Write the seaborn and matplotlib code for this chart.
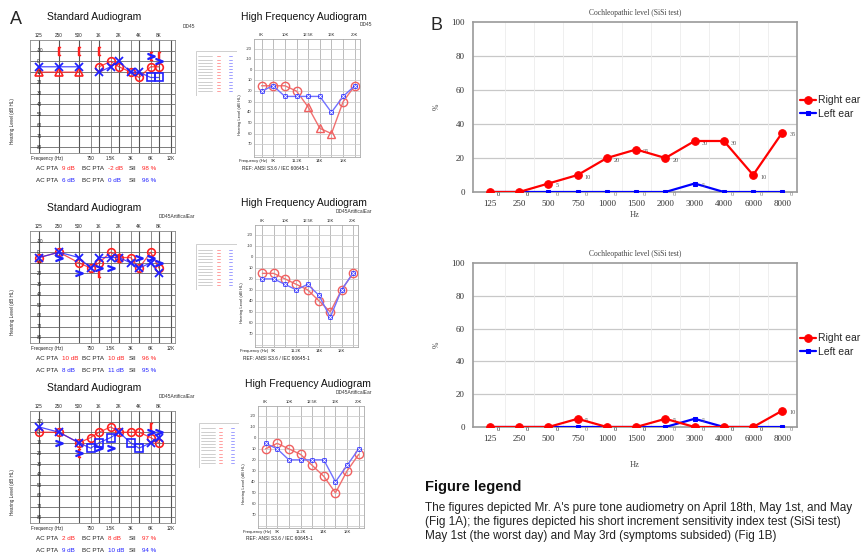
import numpy as np
import matplotlib.pyplot as plt
import seaborn as sns
from matplotlib.patches import Rectangle

nan = np.nan

# ---- Fig 1A: standard audiograms (dB HL), right ear red / left ear blue
std_freqs = [125, 250, 500, 750, 1000, 1500, 2000, 3000, 4000, 6000, 8000]
std_top_labels = ['125', '250', '500', '1K', '2K', '4K', '8K']
std_bottom_labels = ['750', '1.5K', '3K', '6K', '12K']

# April 18th
apr18_right_ac = [nan, nan, nan, nan, 5, 0, 5, 10, 15, 5, 5]
apr18_right_masked = [10, 10, 10, nan, nan, nan, nan, nan, nan, nan, nan]
apr18_left_ac = [5, 5, 5, nan, 10, 5, 0, 10, 10, nan, nan]
apr18_left_masked = [nan, nan, nan, nan, nan, nan, nan, nan, nan, 15, 15]
apr18_right_bc = [nan, -10, -10, nan, -10, nan, nan, nan, nan, -5, -5]
apr18_left_bc = [nan, nan, nan, nan, nan, nan, nan, nan, nan, -5, 0]
apr18_pta_right = ['9 dB', '-2 dB', '98 %']
apr18_pta_left = ['6 dB', '0 dB', '96 %']

# May 1st
may1_right_ac = [5, 0, 10, 15, 10, 0, 5, 5, 15, 0, 15]
may1_right_masked = [nan] * 11
may1_left_ac = [5, 0, 5, 15, 5, 5, 5, 10, 15, 10, 20]
may1_left_masked = [nan] * 11
may1_right_bc = [nan, nan, nan, nan, 20, nan, 5, nan, nan, nan, nan]
may1_left_bc = [nan, 5, 20, nan, 15, 15, nan, nan, 5, 5, 10]
may1_pta_right = ['10 dB', '10 dB', '96 %']
may1_pta_left = ['8 dB', '11 dB', '95 %']

# May 3rd
may3_right_ac = [0, 0, 10, 5, 0, -5, 0, 0, 0, 5, 10]
may3_right_masked = [nan] * 11
may3_left_ac = [-5, 0, 10, nan, nan, nan, 0, nan, nan, 10, 5]
may3_left_masked = [nan, nan, nan, 15, 10, 5, nan, 10, 15, nan, nan]
may3_right_bc = [nan, nan, 20, nan, nan, nan, nan, nan, nan, -5, nan]
may3_left_bc = [nan, 10, 20, nan, 15, 15, nan, nan, nan, 0, 0]
may3_pta_right = ['2 dB', '8 dB', '97 %']
may3_pta_left = ['9 dB', '10 dB', '94 %']

# high frequency audiograms
hf_labels = ['8K', '9K', '10K', '11.2K', '12.5K', '14K', '16K', '18K', '20K']
apr18_hf_right = [15, 15, 15, 20, nan, nan, nan, 30, 15]
apr18_hf_right_masked = [nan, nan, nan, nan, 35, 55, 60, nan, nan]
apr18_hf_left = [20, 15, 25, 25, 25, 25, 40, 25, 15]
may1_hf_right = [15, 15, 20, 25, 30, 40, 50, 30, 15]
may1_hf_left = [20, 20, 25, 30, 25, 35, 55, 30, 15]
may3_hf_right = [10, 5, 10, 15, 25, 35, 50, 30, 15]
may3_hf_left = [5, 10, 20, 20, 20, 20, 40, 25, 10]

# ---- Fig 1B: SISI test (%)
sisi_freqs = ['125', '250', '500', '750', '1000', '1500', '2000', '3000', '4000', '6000', '8000']
sisi_may1_right = [0, 0, 5, 10, 20, 25, 20, 30, 30, 10, 35]
sisi_may1_left = [0, 0, 0, 0, 0, 0, 0, 5, 0, 0, 0]
sisi_may3_right = [0, 0, 0, 5, 0, 0, 5, 0, 0, 0, 10]
sisi_may3_left = [0, 0, 0, 0, 0, 0, 0, 5, 0, 0, 0]

sns.set_style("white")
plt.rcParams['font.family'] = ['Liberation Sans', 'DejaVu Sans']

W, H = 865, 556
fig = plt.figure(figsize=(W / 100, H / 100), dpi=100)


def px_axes(l, t, r, b):
    return fig.add_axes([l / W, 1 - b / H, (r - l) / W, (b - t) / H])


def ftext(x, y, s, **kw):
    kw.setdefault('va', 'center')
    fig.text(x / W, 1 - y / H, s, **kw)


RED = '#ff2020'
BLUE = '#2020ff'
TXT = '#222222'


def std_audiogram(box, tag, right_ac, right_mask, left_ac, left_mask, right_bc, left_bc, pta_r, pta_l):
    l, t, r, b = box
    ax = px_axes(l, t, r, b)
    ax.set_xscale('log', base=2)
    ax.set_xlim(125 * 2 ** -0.45, 125 * 2 ** 6.8)
    ax.set_ylim(85.5, -20)
    for f in [125, 250, 500, 1000, 2000, 4000, 8000, 12000]:
        ax.axvline(f, color='#555555', lw=0.8, zorder=0)
    for f in [750, 1500, 3000, 6000]:
        ax.axvline(f, color='#777777', lw=0.6, zorder=0)
    for db in range(-10, 81, 10):
        ax.axhline(db, color='#666666', lw=0.6, zorder=0)
        ax.text(0.045, db, str(db), transform=ax.get_yaxis_transform(),
                fontsize=3.3, ha='left', va='center', color=TXT)
    ax.set_xticks([])
    ax.set_yticks([])
    for s in ax.spines.values():
        s.set_color('#888888')
        s.set_linewidth(0.6)
    fr = np.array(std_freqs, dtype=float)
    rl = np.where(np.isnan(right_ac), right_mask, right_ac)
    ax.plot(fr, rl, color=RED, lw=0.9, alpha=0.8)
    ax.plot(fr, right_ac, 'o', ms=5.5, mfc='none', mec=RED, mew=1.2)
    ax.plot(fr, right_mask, '^', ms=5.5, mfc='none', mec=RED, mew=1.2)
    ll = np.where(np.isnan(left_ac), left_mask, left_ac)
    ax.plot(fr, ll, color=BLUE, lw=0.9, alpha=0.8)
    ax.plot(fr, left_ac, 'x', ms=5.5, mec=BLUE, mew=1.3)
    ax.plot(fr, left_mask, 's', ms=5.5, mfc='none', mec=BLUE, mew=1.2)
    ax.plot(fr, right_bc, ls='none', marker='$[$', ms=6, color=RED)
    ax.plot(fr, left_bc, ls='none', marker='$>$', ms=5, color=BLUE)
    # frame labels
    ftext((l + r) / 2 - 8, t - 23, 'Standard Audiogram', fontsize=7.5, ha='center', color='#111111')
    ftext(195, t - 14, tag, fontsize=3.5, ha='right', color='#333333')
    xt = ax.get_xaxis_transform()
    for f, s in zip([125, 250, 500, 1000, 2000, 4000, 8000], std_top_labels):
        ax.text(f, 1.02, s, transform=xt, fontsize=3.3, ha='center', va='bottom', color=TXT)
    ax.text(125 * 2 ** -0.4, -0.03, 'Frequency (Hz)', transform=xt,
            fontsize=3.3, ha='left', va='top', color=TXT)
    for f, s in zip([750, 1500, 3000, 6000, 12000], std_bottom_labels):
        ax.text(f, -0.03, s, transform=xt, fontsize=3.3, ha='center', va='top', color=TXT)
    ax.text(-0.12, 0.28, 'Hearing Level (dB HL)', transform=ax.transAxes,
            fontsize=3.3, rotation=90, ha='center', va='center', color=TXT)
    for row, vals, col in [(b + 15, pta_r, RED), (b + 28, pta_l, BLUE)]:
        for x, lab in [(36, 'AC PTA'), (82, 'BC PTA'), (129, 'SII')]:
            ftext(x, row, lab, fontsize=4.5, color=TXT)
        for x, v in zip([62, 108, 142], vals):
            ftext(x, row, v, fontsize=4.5, color=col)


def hf_audiogram(box, tag, right, right_mask, left):
    l, t, r, b = box
    ax = px_axes(l, t, r, b)
    ax.set_xlim(-0.65, 8.45)
    ax.set_ylim(82, -29)
    idx = np.arange(len(hf_labels))
    for i in idx:
        ax.axvline(i, color='#bbbbbb', lw=0.7, zorder=0)
    for db in range(-20, 81, 10):
        ax.axhline(db, color='#cccccc', lw=0.6, zorder=0)
    for db in range(-20, 71, 10):
        ax.text(-0.02, db, str(db), transform=ax.get_yaxis_transform(), fontsize=3.0,
                ha='right', va='center', color='#333333')
    ax.set_xticks([])
    ax.set_yticks([])
    for s in ax.spines.values():
        s.set_color('#aaaaaa')
        s.set_linewidth(0.6)
    rl = np.where(np.isnan(right), right_mask, right)
    sns.lineplot(x=idx, y=rl, ax=ax, color='#f07070', lw=1.0, sort=False)
    ax.plot(idx, right, 'o', ms=6, mfc='none', mec='#f06060', mew=1.0)
    ax.plot(idx, right_mask, '^', ms=6, mfc='none', mec='#f06060', mew=1.0)
    sns.lineplot(x=idx, y=left, ax=ax, color='#7070ff', lw=1.0, sort=False)
    ax.plot(idx, left, 's', ms=3.2, mfc='#6060ff', mec='#3030ff', mew=0.6)
    ax.plot(idx, left, 'x', ms=2.4, mec='#ffffff', mew=0.5)
    ftext((l + r) / 2 - 3, t - 22, 'High Frequency Audiogram', fontsize=7.5, ha='center', color='#111111')
    ftext(372, t - 14, tag, fontsize=3.5, ha='right', color='#333333')
    xt = ax.get_xaxis_transform()
    for i in range(0, 9, 2):
        ax.text(i, 1.02, hf_labels[i], transform=xt, fontsize=3.0,
                ha='center', va='bottom', color=TXT)
    for i in range(1, 9, 2):
        ax.text(i, -0.02, hf_labels[i], transform=xt, fontsize=3.0,
                ha='center', va='top', color=TXT)
    ax.text(-0.75, -0.02, 'Frequency (Hz)', transform=xt,
            fontsize=3.0, ha='center', va='top', color=TXT)
    ax.text(-0.13, 0.36, 'Hearing Level (dB HL)', transform=ax.transAxes,
            fontsize=3.0, rotation=90, ha='center', va='center', color=TXT)
    ftext(l - 12, b + 11, 'REF: ANSI S3.6 / IEC 60645-1', fontsize=3.5, ha='left', color=TXT)


def mini_legend(l, t, r, b):
    ax = px_axes(l, t, r, b)
    ax.set_xlim(0, 1)
    ax.set_ylim(1, 0)
    ax.axis('off')
    ax.add_patch(Rectangle((0, 0), 1, 1, fill=False, ec='#c8c8c8', lw=0.6))
    for k in range(12):
        y = 0.12 + k * 0.07
        ax.plot([0.06, 0.4], [y, y], color='#bbbbbb', lw=0.5)
        ax.plot([0.5, 0.58], [y, y], color='#ff9090', lw=0.6)
        ax.plot([0.8, 0.88], [y, y], color='#9090ff', lw=0.6)


std_rows = [(30, 40, 175, 153), (30, 231, 175, 343), (30, 411, 175, 523)]
hf_rows = [(254, 39, 360, 157), (255, 225, 358, 347), (258, 406, 364, 528)]
tags = ['DD45', 'DD45ArtificalEar', 'DD45ArtificalEar']
std_data = [
    (apr18_right_ac, apr18_right_masked, apr18_left_ac, apr18_left_masked, apr18_right_bc, apr18_left_bc, apr18_pta_right, apr18_pta_left),
    (may1_right_ac, may1_right_masked, may1_left_ac, may1_left_masked, may1_right_bc, may1_left_bc, may1_pta_right, may1_pta_left),
    (may3_right_ac, may3_right_masked, may3_left_ac, may3_left_masked, may3_right_bc, may3_left_bc, may3_pta_right, may3_pta_left),
]
hf_data = [
    (apr18_hf_right, apr18_hf_right_masked, apr18_hf_left),
    (may1_hf_right, [nan] * 9, may1_hf_left),
    (may3_hf_right, [nan] * 9, may3_hf_left),
]
for box, tag, d in zip(std_rows, tags, std_data):
    std_audiogram(box, tag, *d)
for box, tag, d in zip(hf_rows, tags, hf_data):
    hf_audiogram(box, tag, *d)
for box in [(196, 51, 237, 96), (196, 244, 237, 290), (199, 423, 239, 468)]:
    mini_legend(*box)

ftext(10, 20, 'A', fontsize=13, ha='left')
ftext(430, 25, 'B', fontsize=13, ha='left')


# ---- panel B
def sisi_chart(box, right, left, hz_y):
    l, t, r, b = box
    ax = px_axes(l, t, r, b)
    x = np.arange(len(sisi_freqs))
    sns.lineplot(x=x, y=right, ax=ax, color='#ff0000', lw=1.6, marker='o', ms=5.5,
                 mec='#ff0000', label='Right ear', zorder=4)
    sns.lineplot(x=x, y=left, ax=ax, color='#0000ff', lw=1.6, marker='s', ms=3,
                 mec='#0000ff', label='Left ear', zorder=3)
    for xi, v in zip(x, right):
        ax.annotate(str(v), (xi, v), xytext=(5, -1.5), textcoords='offset points',
                    fontsize=4.5, color='#555555', family='Liberation Serif', va='center')
    for xi, v in zip(x, left):
        ax.annotate(str(v), (xi, v), xytext=(5, -1.5), textcoords='offset points',
                    fontsize=4.5, color='#777777', family='Liberation Serif', va='center')
    ax.set_xlim(-0.58, 10.5)
    ax.set_ylim(0, 100)
    ax.set_yticks(range(0, 101, 20))
    ax.set_xticks(x)
    ax.set_xticklabels(sisi_freqs)
    for lab in ax.get_xticklabels() + ax.get_yticklabels():
        lab.set_family('Liberation Serif')
        lab.set_fontsize(6.5)
        lab.set_color('#333333')
    ax.tick_params(length=0, pad=6)
    for yv in range(20, 100, 20):
        ax.axhline(yv, color='#c8c8c8', lw=0.9, zorder=0)
    for xv in np.arange(0.5, 10, 1):
        ax.axvline(xv, color='#ececec', lw=0.6, zorder=0)
    for s in ax.spines.values():
        s.set_color('#9a9a9a')
        s.set_linewidth(1.2)
    ax.set_title('Cochleopathic level (SiSi test)', fontsize=5.5, family='Liberation Serif',
                 color='#444444', pad=5)
    ax.set_ylabel('%', fontsize=5.5, family='Liberation Serif', color='#444444')
    ax.yaxis.set_label_coords(-0.1, 0.5)
    ax.set_xlabel('Hz', fontsize=6, family='Liberation Serif', color='#444444')
    ax.xaxis.set_label_coords(0.5, hz_y)
    ax.legend(loc='center left', bbox_to_anchor=(1.01, 0.5), frameon=False, fontsize=7.5,
              handlelength=1.5, handletextpad=0.2, labelspacing=0.35, borderpad=0,
              borderaxespad=0)


sisi_chart((473, 22, 797, 192), sisi_may1_right, sisi_may1_left, -0.11)
sisi_chart((473, 263, 797, 427), sisi_may3_right, sisi_may3_left, -0.21)

# ---- figure legend text (the visible part of the caption)
ftext(425, 487, 'Figure legend', fontsize=10.5, fontweight='bold', ha='left', color='#111111')
legend_lines = [
    "The figures depicted Mr. A's pure tone audiometry on April 18th, May 1st, and May",
    "(Fig 1A); the figures depicted his short increment sensitivity index test (SiSi test)",
    "May 1st (the worst day) and May 3rd (symptoms subsided) (Fig 1B)",
]
for k, line in enumerate(legend_lines):
    ftext(425, 508 + 14 * k, line, fontsize=8.5, ha='left', color='#222222')

fig.savefig('out.png', dpi=100)
